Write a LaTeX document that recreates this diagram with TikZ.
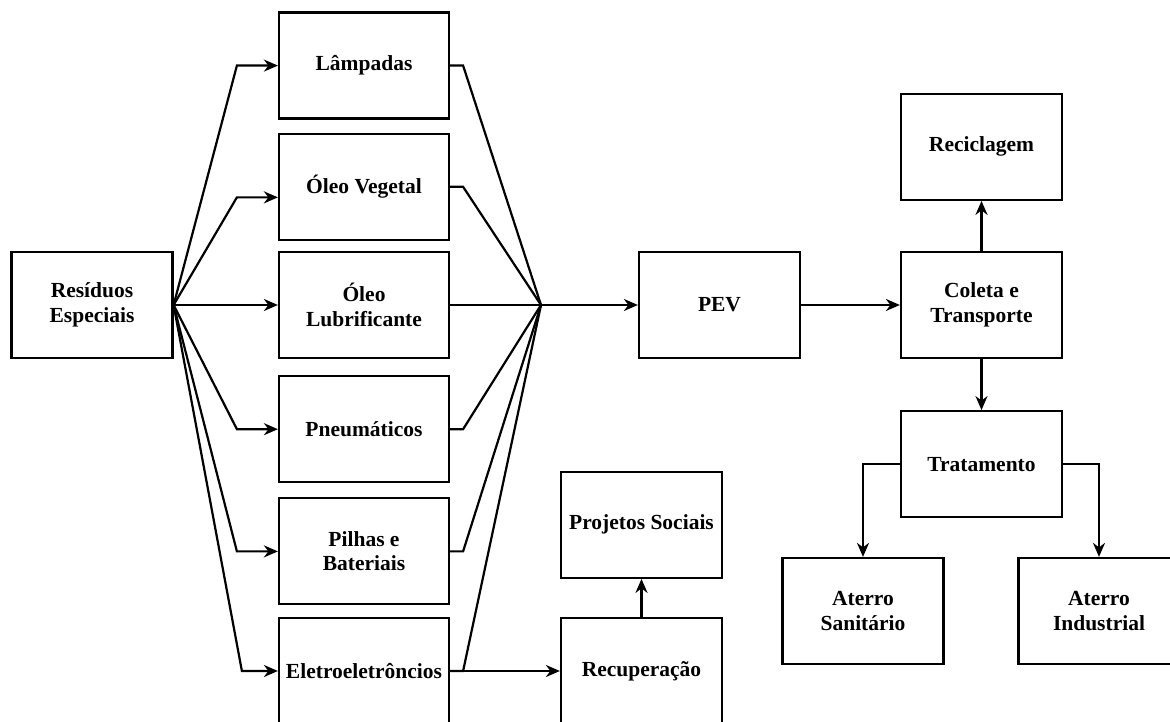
\documentclass[tikz,border=0pt]{standalone}
\usepackage{fontspec}
\setmainfont{Liberation Serif}
\usetikzlibrary{arrows.meta, positioning}

\begin{document}
\begin{tikzpicture}[
  x=1pt, y=1pt,
  box/.style    = {rectangle, draw, line width=2.2pt, minimum width=161pt,
                   minimum height=106pt, inner sep=2pt, align=center,
                   font=\fontsize{21.5}{24.5}\selectfont\bfseries},
  wide/.style   = {minimum width=170pt},
  link/.style   = {line width=2.2pt, line join=miter},
  arrow/.style  = {link, -{Stealth[length=14pt, width=12pt, inset=4.5pt]}}
]
\useasboundingbox (0,0) rectangle (1170,722);

% ── Source ───────────────────────────────────────────────────────────────────
\node[box] (res) at (92,417) {Resíduos\\Especiais};

% ── Waste types (middle column) ──────────────────────────────────────────────
\node[box, wide] (lub) at (364,417) {Óleo\\Lubrificante};
\node[box, wide, above=10pt of lub]  (veg)  {Óleo Vegetal};
\node[box, wide, above=13pt of veg]  (lamp) {Lâmpadas};
\node[box, wide, below=16pt of lub]  (pneu) {Pneumáticos};
\node[box, wide, below=14pt of pneu] (pil)  {Pilhas e\\Bateriais};
\node[box, wide] (elet) at (364,51) {Eletroeletrôncios};

% ── Collection chain ─────────────────────────────────────────────────────────
\coordinate (hub) at (541,417);
\node[box] (pev)  at (719.5,417) {PEV};
\node[box] (col)  at (981.5,417) {Coleta e\\Transporte};
\node[box, above=50pt of col] (rec)  {Reciclagem};
\node[box, below=51pt of col] (trat) {Tratamento};
\node[box] (san) at (863,111) {Aterro\\Sanitário};
\node[box] (ind) at (1099,111) {Aterro\\Industrial};

% ── Recovery branch ──────────────────────────────────────────────────────────
\node[box] (recu) at (641.5,51) {Recuperação};
\node[box, above=38pt of recu] (proj) {Projetos Sociais};

% ── Fan out from the source ──────────────────────────────────────────────────
\draw[arrow] (res.east) -- ([xshift=-41pt]lamp.west) -- (lamp.west);
\draw[arrow] (res.east) -- ([xshift=-41pt]veg.187) -- (veg.187);
\draw[arrow] (res.east) -- (lub.west);
\draw[arrow] (res.east) -- ([xshift=-41pt]pneu.west) -- (pneu.west);
\draw[arrow] (res.east) -- ([xshift=-41pt]pil.west) -- (pil.west);
\draw[arrow] (res.east) -- ([xshift=-36pt]elet.west) -- (elet.west);

% ── Fan in to the PEV ────────────────────────────────────────────────────────
\draw[link] (lamp.east) -- ++(13,0) -- (hub);
\draw[link] (veg.east) -- ++(13,0) -- (hub);
\draw[link] (lub.east) -- (hub);
\draw[link] (pneu.east) -- ++(13,0) -- (hub);
\draw[link] (pil.east) -- ++(13,0) -- (hub);
\draw[link] (elet.east) -- ++(13,0) -- (hub);
\draw[arrow] (hub) -- (pev.west);

% ── Destinations ─────────────────────────────────────────────────────────────
\draw[arrow] (pev.east) -- (col.west);
\draw[arrow] (col.north) -- (rec.south);
\draw[arrow] (col.south) -- (trat.north);
\draw[arrow] (trat.west) -| (san.north);
\draw[arrow] (trat.east) -| (ind.north);
\draw[arrow] (elet.east) -- (recu.west);
\draw[arrow] (recu.north) -- (proj.south);

\end{tikzpicture}
\end{document}
